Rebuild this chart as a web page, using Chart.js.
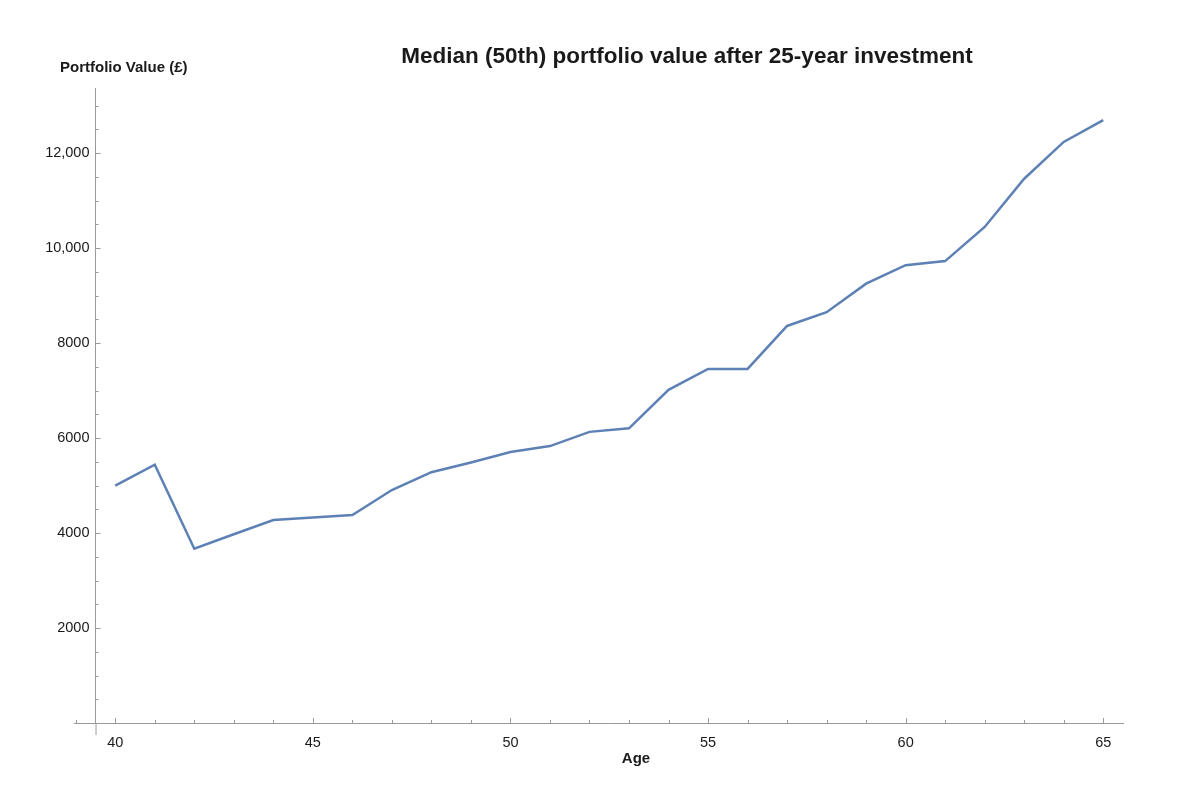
<!DOCTYPE html>
<html>
<head>
<meta charset="utf-8">
<script src="https://cdn.jsdelivr.net/npm/chart.js@4"></script>
<style>
  body { margin: 0; background: #fff; }
  #wrap { width: 1200px; height: 800px; }
</style>
</head>
<body>
<div id="wrap"><canvas id="myChart"></canvas></div>
<script>
// values
var ages = [40, 41, 42, 43, 44, 45, 46, 47, 48, 49, 50, 51, 52, 53, 54, 55, 56, 57, 58, 59, 60, 61, 62, 63, 64, 65];
var medianValue = [5000, 5440, 3670, 3975, 4275, 4325, 4380, 4905, 5280, 5485, 5705, 5830, 6130, 6205, 7015, 7455, 7455, 8360, 8650, 9250, 9640, 9725, 10445, 11460, 12235, 12695];
var xTickLabels = [40, 45, 50, 55, 60, 65];
var yTickLabels = [2000, 4000, 6000, 8000, 10000, 12000];

var chartTitle = 'Median (50th) portfolio value after 25-year investment';
var yTitle = 'Portfolio Value (£)';
var xTitle = 'Age';

var axisColor = '#9a9a9a';
var textColor = '#1a1a1a';

// tick marks pointing inwards, like the original plot
var innerTicks = {
    id: 'innerTicks',
    afterDraw: function(chart) {
        var ctx = chart.ctx;
        var xs = chart.scales.x;
        var ys = chart.scales.y;
        var area = chart.chartArea;
        ctx.save();
        ctx.strokeStyle = axisColor;
        ctx.lineWidth = 1;
        ctx.beginPath();
        // axis stubs past the crossing point
        ctx.moveTo(xs.getPixelForValue(39) - 2, area.bottom + 0.5);
        ctx.lineTo(area.left, area.bottom + 0.5);
        ctx.moveTo(area.left + 0.5, area.bottom);
        ctx.lineTo(area.left + 0.5, area.bottom + 12);
        xs.ticks.forEach(function(t) {
            var px = Math.round(xs.getPixelForValue(t.value)) + 0.5;
            var len = xTickLabels.indexOf(t.value) >= 0 ? 5 : 3;
            ctx.moveTo(px, area.bottom);
            ctx.lineTo(px, area.bottom - len);
        });
        ys.ticks.forEach(function(t) {
            if (t.value <= 0) return;
            var py = Math.round(ys.getPixelForValue(t.value)) + 0.5;
            var len = yTickLabels.indexOf(t.value) >= 0 ? 5 : 3;
            ctx.moveTo(area.left, py);
            ctx.lineTo(area.left + len, py);
        });
        ctx.stroke();

        ctx.fillStyle = textColor;
        ctx.textBaseline = 'middle';
        ctx.textAlign = 'center';
        ctx.font = 'bold 22.5px "Liberation Sans", Arial, sans-serif';
        ctx.fillText(chartTitle, 687, 57);
        ctx.textAlign = 'left';
        ctx.font = 'bold 15px "Liberation Sans", Arial, sans-serif';
        ctx.fillText(yTitle, 60, 68);
        ctx.textAlign = 'center';
        ctx.font = 'bold 15px "Liberation Sans", Arial, sans-serif';
        ctx.fillText(xTitle, 636, 759);
        ctx.restore();
    }
};

var ctx = document.getElementById('myChart').getContext('2d');
var chart = new Chart(ctx, {
    type: 'line',
    data: {
        datasets: [{
            data: ages.map(function(a, i) { return { x: a, y: medianValue[i] }; }),
            borderColor: '#5e81b5',
            borderWidth: 2.5,
            pointRadius: 0,
            tension: 0,
            fill: false
        }]
    },
    options: {
        responsive: true,
        maintainAspectRatio: false,
        animation: false,
        layout: { padding: { left: 0, top: 88, right: 77, bottom: 0 } },
        plugins: {
            legend: { display: false },
            tooltip: { enabled: false }
        },
        scales: {
            x: {
                type: 'linear',
                min: 39.5,
                max: 65.5,
                afterBuildTicks: function(scale) {
                    var t = [];
                    for (var a = 39; a <= 65; a++) t.push({ value: a });
                    scale.ticks = t;
                },
                afterFit: function(scale) { scale.height = 77; },
                grid: { display: false, drawTicks: false },
                border: { display: true, color: axisColor, width: 1 },
                ticks: {
                    padding: 11,
                    maxRotation: 0,
                    autoSkip: false,
                    color: textColor,
                    font: { family: '"Liberation Sans", Arial, sans-serif', size: 14.5 },
                    callback: function(v) {
                        return xTickLabels.indexOf(v) >= 0 ? String(v) : '';
                    }
                }
            },
            y: {
                type: 'linear',
                min: 0,
                max: 13370,
                afterBuildTicks: function(scale) {
                    var t = [];
                    for (var v = 500; v <= 13000; v += 500) t.push({ value: v });
                    scale.ticks = t;
                },
                afterFit: function(scale) { scale.width = 95.5; },
                grid: { display: false, drawTicks: false },
                border: { display: true, color: axisColor, width: 1 },
                ticks: {
                    padding: 6,
                    autoSkip: false,
                    color: textColor,
                    font: { family: '"Liberation Sans", Arial, sans-serif', size: 14.5 },
                    callback: function(v) {
                        if (yTickLabels.indexOf(v) < 0) return '';
                        return v >= 10000 ? v.toLocaleString('en-US') : String(v);
                    }
                }
            }
        }
    },
    plugins: [innerTicks]
});
</script>
</body>
</html>
